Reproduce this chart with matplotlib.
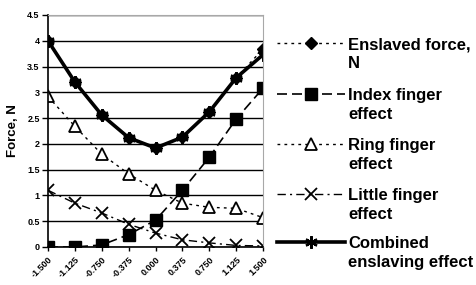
import matplotlib
matplotlib.use("Agg")
import matplotlib.pyplot as plt
from matplotlib.lines import Line2D

plt.rcParams['font.family'] = ['Liberation Sans', 'DejaVu Sans']
plt.rcParams['font.weight'] = 'bold'

# finger position offsets (category labels) and force values
positions = ['-1.500', '-1.125', '-0.750', '-0.375', '0.000', '0.375', '0.750', '1.125', '1.500']
enslaved = [4.0, 3.2, 2.56, 2.12, 1.92, 2.13, 2.62, 3.28, 3.84]
index_fx = [0.0, 0.0, 0.04, 0.24, 0.52, 1.1, 1.74, 2.48, 3.08]
ring_fx = [2.92, 2.34, 1.8, 1.42, 1.1, 0.85, 0.77, 0.75, 0.57]
little_fx = [1.1, 0.85, 0.66, 0.44, 0.27, 0.14, 0.08, 0.03, 0.02]
combined = [4.0, 3.2, 2.56, 2.12, 1.92, 2.13, 2.62, 3.28, 3.73]
labels = ['Enslaved force,\nN', 'Index finger\neffect', 'Ring finger\neffect',
          'Little finger\neffect', 'Combined\nenslaving effect']

styles = [
    dict(lw=1, ls=(0, (2, 3)), marker='D', ms=6, mfc='black', mec='black'),
    dict(lw=1.2, ls=(0, (6, 3)), marker='s', ms=8, mfc='black', mec='black'),
    dict(lw=1, ls=(0, (2, 3)), marker='^', ms=8, mfc='white', mec='black', mew=1.3),
    dict(lw=1, ls=(0, (6, 3, 1.5, 3)), marker='x', ms=8, mec='black', mew=1.3),
    dict(lw=2.6, ls='-', marker=(6, 2, 0), ms=9, mec='black', mew=1.6),
]

W, H = 476, 285
fig = plt.figure(figsize=(W / 100, H / 100), dpi=100)
ax = fig.add_axes([48 / W, 38 / H, 215 / W, 232 / H])
xs = list(range(len(positions)))

for ys, st in zip([enslaved, index_fx, ring_fx, little_fx, combined], styles):
    ax.plot(xs, ys, color='black', **st)

ax.set_xlim(0, 8)
ax.set_ylim(0, 4.5)
ax.set_yticks([i * 0.5 for i in range(10)])
ax.set_yticklabels(['0', '0.5', '1', '1.5', '2', '2.5', '3', '3.5', '4', '4.5'], fontsize=6.5, fontweight='bold')
ax.set_xticks(xs)
ax.set_xticklabels(positions, rotation=45, fontsize=6.5, fontweight='bold', ha='right', rotation_mode='anchor')
ax.tick_params(axis='y', direction='out', length=4, width=1, pad=2)
ax.tick_params(axis='x', direction='out', length=3, width=1, pad=3)
ax.yaxis.grid(True, color='black', lw=1)
ax.set_axisbelow(True)
for s in ['top', 'right']:
    ax.spines[s].set_color('#a8a8a8')
ax.spines['left'].set_linewidth(1.2)
ax.spines['bottom'].set_linewidth(1.2)
ax.set_ylabel('Force, N', fontsize=9.5, fontweight='bold', labelpad=6)

# legend drawn by hand so each handle sits level with the first text line
entry_y = [43, 94, 144, 194, 242]
for yp, lab, st in zip(entry_y, labels, styles):
    yf = 1 - yp / H
    fig.add_artist(Line2D([277 / W, 345 / W], [yf, yf], transform=fig.transFigure,
                          color='black', lw=st['lw'], ls=st['ls']))
    mk = {k: v for k, v in st.items() if k not in ('lw', 'ls')}
    fig.add_artist(Line2D([311 / W], [yf], transform=fig.transFigure, color='black', ls='none', **mk))
    first, second = lab.split('\n')
    fig.text(348 / W, 1 - (yp + 6) / H, first, fontsize=12, fontweight='bold', va='baseline')
    fig.text(348 / W, 1 - (yp + 25) / H, second, fontsize=12, fontweight='bold', va='baseline')

fig.savefig('out.png', dpi=100)
